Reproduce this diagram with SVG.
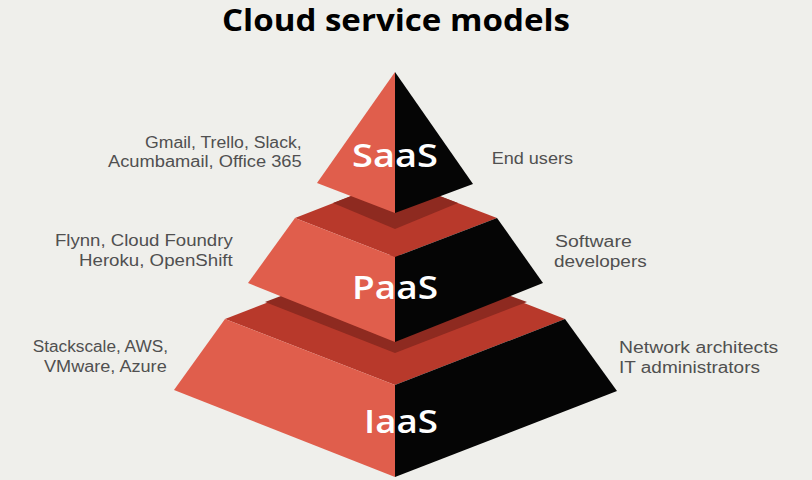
<svg xmlns="http://www.w3.org/2000/svg" width="812" height="480" viewBox="0 0 812 480">
<style>
.bg{fill:#efefeb}
.lf{fill:#e05e4c}
.rf{fill:#050505}
.top{fill:#b8392b}
.sh{fill:#8e2a20}
.tier{font-family:"Open Sans","Liberation Sans",sans-serif;font-weight:600;fill:#ffffff;font-size:33px}
.lbl{font-family:"Liberation Sans",Arial,sans-serif;font-weight:400;fill:#505050;font-size:16px}
.title{font-family:"Open Sans","Liberation Sans",sans-serif;font-weight:700;fill:#000000;font-size:30px}
</style>
<rect class="bg" x="0" y="0" width="812" height="480"/>
<text class="title" x="222" y="31" textLength="348" lengthAdjust="spacingAndGlyphs">Cloud service models</text>

<g id="iaas">
<polygon class="top" points="225,319 395,385 565,319 395,253"/>
<polygon class="sh" points="265,302 395,353 527,302 395,253"/>
<polygon class="lf" points="225,319 395,385 395,477 174,390"/>
<polygon class="rf" points="395,385 565,319 617,391 395,477"/>
<text class="tier" x="364" y="433" textLength="74" lengthAdjust="spacingAndGlyphs">IaaS</text>
</g>

<g id="paas">
<polygon class="top" points="295,218 395,257 497,218 395,179"/>
<polygon class="sh" points="333,203 395,229 458,203 395,179"/>
<polygon class="lf" points="295,218 395,257 395,342 248,283"/>
<polygon class="rf" points="395,257 497,218 543,283 395,342"/>
<text class="tier" x="352" y="298.5" textLength="86" lengthAdjust="spacingAndGlyphs">PaaS</text>
</g>

<g id="saas">
<polygon class="lf" points="395,72 317,183 395,213"/>
<polygon class="rf" points="395,72 473,184 395,213"/>
<text class="tier" x="352" y="167" textLength="86" lengthAdjust="spacingAndGlyphs">SaaS</text>
</g>

<g id="saas-examples">
<text class="lbl" x="145" y="147.7" textLength="156.7" lengthAdjust="spacingAndGlyphs">Gmail, Trello, Slack,</text>
<text class="lbl" x="108" y="166.7" textLength="193.7" lengthAdjust="spacingAndGlyphs">Acumbamail, Office 365</text>
</g>
<g id="paas-examples">
<text class="lbl" x="55" y="245.7" textLength="177.7" lengthAdjust="spacingAndGlyphs">Flynn, Cloud Foundry</text>
<text class="lbl" x="79" y="265.7" textLength="153.7" lengthAdjust="spacingAndGlyphs">Heroku, OpenShift</text>
</g>
<g id="iaas-examples">
<text class="lbl" x="32.7" y="351.7" textLength="135.3" lengthAdjust="spacingAndGlyphs">Stackscale, AWS,</text>
<text class="lbl" x="44" y="371.7" textLength="122.7" lengthAdjust="spacingAndGlyphs">VMware, Azure</text>
</g>
<g id="saas-users">
<text class="lbl" x="491.7" y="164" textLength="81.3" lengthAdjust="spacingAndGlyphs">End users</text>
</g>
<g id="paas-users">
<text class="lbl" x="555" y="247.3" textLength="76.7" lengthAdjust="spacingAndGlyphs">Software</text>
<text class="lbl" x="554" y="266.5" textLength="92.7" lengthAdjust="spacingAndGlyphs">developers</text>
</g>
<g id="iaas-users">
<text class="lbl" x="619" y="352.7" textLength="159.3" lengthAdjust="spacingAndGlyphs">Network architects</text>
<text class="lbl" x="619" y="372.7" textLength="141" lengthAdjust="spacingAndGlyphs">IT administrators</text>
</g>
</svg>
